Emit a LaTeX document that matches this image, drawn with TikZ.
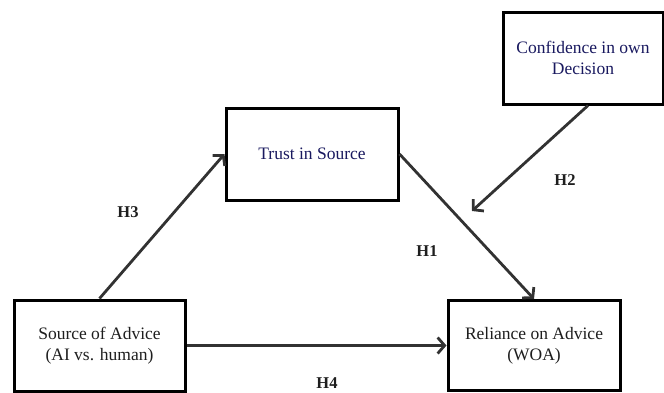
\documentclass[tikz,border=0pt]{standalone}
\usepackage{fontspec}
\setmainfont{Liberation Serif}
\usetikzlibrary{arrows.meta}
\definecolor{navy}{RGB}{25,25,95}
\definecolor{ink}{RGB}{30,30,30}
\definecolor{arrowgray}{RGB}{50,50,50}
\tikzset{
  box/.style={draw=black, line width=3pt, rectangle, align=center,
    font=\fontsize{17.5}{21}\selectfont, text=ink, inner sep=0pt},
  conn/.style={draw=arrowgray, line width=2.8pt,
    -{Straight Barb[length=7pt,width=16pt]}},
  hlab/.style={font=\fontsize{16.5}{19}\selectfont\bfseries, text=ink}
}
\begin{document}
\begin{tikzpicture}[x=1pt,y=-1pt]
\useasboundingbox (0,0) rectangle (664,392);
\node[box, minimum width=171pt, minimum height=91pt] (src) at (99.5,345.5)
  {Source of Advice\\(AI vs. human)};
\node[box, minimum width=172pt, minimum height=92pt, text=navy] (trust) at (312,154)
  {Trust in Source};
\node[box, minimum width=160pt, minimum height=92pt, text=navy] (conf) at (583,58)
  {Confidence in own\\Decision};
\node[box, minimum width=172pt, minimum height=90pt] (rel) at (534,345.5)
  {Reliance on Advice\\(WOA)};
\coordinate (h2end) at (472,211);
\draw[conn] (src.north) -- (trust.west);
\draw[conn] (trust.east) -- (rel.north);
\draw[conn] ([xshift=5pt]conf.south) -- (h2end);
\draw[conn] (src.east) -- (rel.west);
\node[hlab] (h3) at (128,212) {H3};
\node[hlab] (h1) at (427,251) {H1};
\node[hlab] (h2) at (565,180) {H2};
\node[hlab] (h4) at (327,383) {H4};
\end{tikzpicture}
\end{document}
